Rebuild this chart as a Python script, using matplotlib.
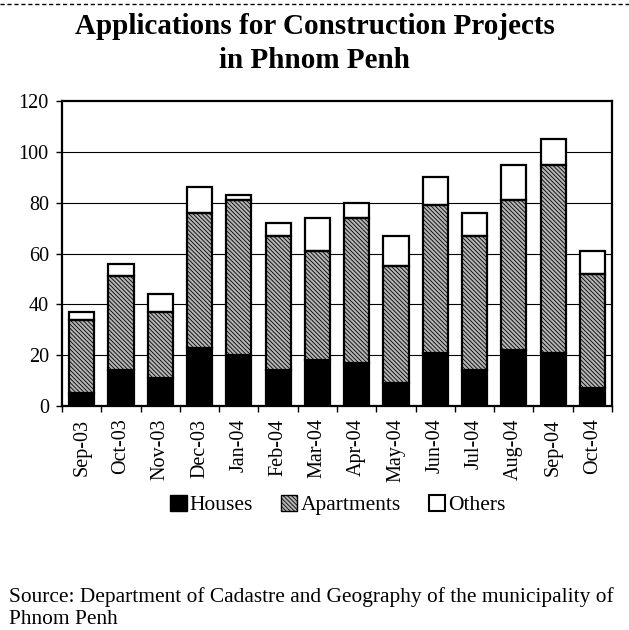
import matplotlib

matplotlib.use("Agg")
import matplotlib.pyplot as plt
import numpy as np
from matplotlib.lines import Line2D
from matplotlib.patches import Patch

# ─── data ────────────────────────────────────────────────────────────────────

months = ["Sep-03", "Oct-03", "Nov-03", "Dec-03", "Jan-04", "Feb-04", "Mar-04",
          "Apr-04", "May-04", "Jun-04", "Jul-04", "Aug-04", "Sep-04", "Oct-04"]
houses     = [5, 14, 11, 23, 20, 14, 18, 17, 9, 21, 14, 22, 21, 7]
apartments = [29, 37, 26, 53, 61, 53, 43, 57, 46, 58, 53, 59, 74, 45]
others     = [3, 5, 7, 10, 2, 5, 13, 6, 12, 11, 9, 14, 10, 9]
y_ticks = [0, 20, 40, 60, 80, 100, 120]

SERIF = "Liberation Serif"
plt.rcParams["font.family"] = [SERIF, "DejaVu Serif"]
plt.rcParams["hatch.linewidth"] = 0.6

HATCH = "\\\\\\\\\\\\\\\\"
HATCH_FACE = "#b4b4b4"

fig = plt.figure(figsize=(6.29, 6.30), dpi=100)
ax = fig.add_axes([62 / 629, 1 - 406 / 630, 550 / 629, 305 / 630])

x = np.arange(len(months))
h = np.array(houses)
a = np.array(apartments)
o = np.array(others)
w = 0.64
lw = 1.6

# gridlines under the bars
for yv in y_ticks[1:-1]:
    ax.axhline(yv, color="black", lw=0.8, zorder=0)

ax.bar(x, h, width=w, color="black", edgecolor="black", lw=lw, zorder=2)
ax.bar(x, a, width=w, bottom=h, facecolor=HATCH_FACE, edgecolor="black",
       hatch=HATCH, lw=0, zorder=2)
ax.bar(x, a, width=w, bottom=h, facecolor="none", edgecolor="black", lw=lw, zorder=3)
ax.bar(x, o, width=w, bottom=h + a, facecolor="white", edgecolor="black", lw=lw, zorder=2)

ax.set_xlim(-0.5, len(months) - 0.5)
ax.set_ylim(0, 120)
ax.set_yticks(y_ticks)
ax.set_yticklabels([str(v) for v in y_ticks], fontsize=14.5)
ax.tick_params(axis="y", length=4.5, width=1, pad=5)

# ticks between categories, labels at centres
ax.set_xticks(np.arange(-0.5, len(months), 1.0))
ax.set_xticklabels([])
ax.tick_params(axis="x", which="major", length=4, width=1)
ax.set_xticks(x, minor=True)
ax.set_xticklabels(months, minor=True, rotation=90, fontsize=14.5)
ax.tick_params(axis="x", which="minor", length=0, pad=9)

for sp in ax.spines.values():
    sp.set_linewidth(1.6)

# title
fig.text(0.5, 1 - 27 / 630, "Applications for Construction Projects",
         ha="center", va="center", fontsize=21, fontweight="bold")
fig.text(0.5, 1 - 60 / 630, "in Phnom Penh",
         ha="center", va="center", fontsize=21, fontweight="bold")

# dashed rule at the very top
fig.add_artist(Line2D([0, 1], [1 - 4 / 630, 1 - 4 / 630], transform=fig.transFigure,
                      color="black", lw=1, linestyle=(0, (3, 2))))

# legend
handles = [
    Patch(facecolor="black", edgecolor="black", lw=1),
    Patch(facecolor=HATCH_FACE, edgecolor="black", hatch=HATCH, lw=1),
    Patch(facecolor="white", edgecolor="black", lw=1.5),
]
fig.legend(handles, ["Houses", "Apartments", "Others"], ncol=3, frameon=False,
           loc="center", bbox_to_anchor=(338 / 629, 1 - 505 / 630),
           fontsize=15.5, handlelength=0.75, handleheight=0.75,
           handletextpad=0.15, columnspacing=1.3)

# source note
fig.text(9 / 629, 1 - 597 / 630,
         "Source: Department of Cadastre and Geography of the municipality of",
         ha="left", va="center", fontsize=15.4)
fig.text(9 / 629, 1 - 620 / 630, "Phnom Penh", ha="left", va="center", fontsize=15.4)

fig.savefig("out.png", dpi=100)
